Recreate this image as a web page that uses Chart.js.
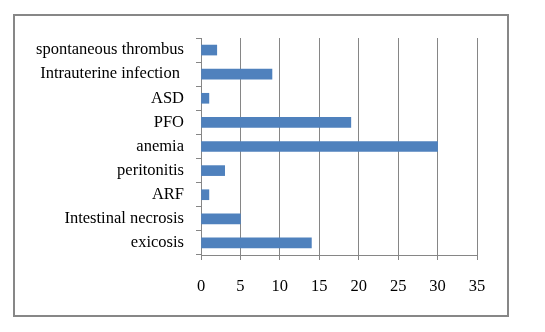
<!DOCTYPE html>
<html>
<head>
<meta charset="utf-8">
<script src="https://cdn.jsdelivr.net/npm/chart.js@4"></script>
<style>
html,body{margin:0;padding:0;background:#fff;}
#wrap{position:relative;width:545px;height:332px;}
</style>
</head>
<body>
<div id="wrap"><canvas id="c" width="545" height="332"></canvas></div>
<script>
const categories = ["spontaneous thrombus", "Intrauterine infection ", "ASD", "PFO", "anemia", "peritonitis", "ARF", "Intestinal necrosis", "exicosis"];
const counts = [2, 9, 1, 19, 30, 3, 1, 5, 14];
const xTicks = [0, 5, 10, 15, 20, 25, 30, 35];

const gridGray = '#868686';
const frame = {
  id: 'frame',
  afterDraw(chart) {
    const ctx = chart.ctx;
    ctx.save();
    ctx.strokeStyle = '#878787';
    ctx.lineWidth = 2;
    ctx.strokeRect(14, 15, 494, 301);
    ctx.restore();
  }
};

new Chart(document.getElementById('c'), {
  type: 'bar',
  data: {
    labels: categories,
    datasets: [{
      data: counts,
      backgroundColor: '#4F81BD',
      borderWidth: 0,
      barThickness: 10
    }]
  },
  options: {
    indexAxis: 'y',
    responsive: false,
    animation: false,
    devicePixelRatio: 1,
    layout: { padding: { left: 0, right: 68, top: 38, bottom: 0 } },
    plugins: { legend: { display: false }, tooltip: { enabled: false } },
    scales: {
      x: {
        min: 0, max: 35,
        afterBuildTicks(scale) { scale.ticks = xTicks.map(v => ({ value: v })); },
        afterFit(scale) { scale.height = 77; },
        grid: { color: gridGray, lineWidth: 1, tickLength: 5, drawTicks: true },
        border: { color: gridGray, width: 1 },
        ticks: { color: '#000', padding: 17, font: { family: '"Liberation Serif", "Times New Roman", serif', size: 16.5 } }
      },
      y: {
        afterFit(scale) { scale.width = 201; },
        grid: { drawOnChartArea: false, color: gridGray, tickLength: 5, offset: true },
        border: { color: gridGray, width: 1 },
        ticks: { color: '#000', padding: 12, autoSkip: false, font: { family: '"Liberation Serif", "Times New Roman", serif', size: 16.5 } }
      }
    }
  },
  plugins: [frame]
});
</script>
</body>
</html>
